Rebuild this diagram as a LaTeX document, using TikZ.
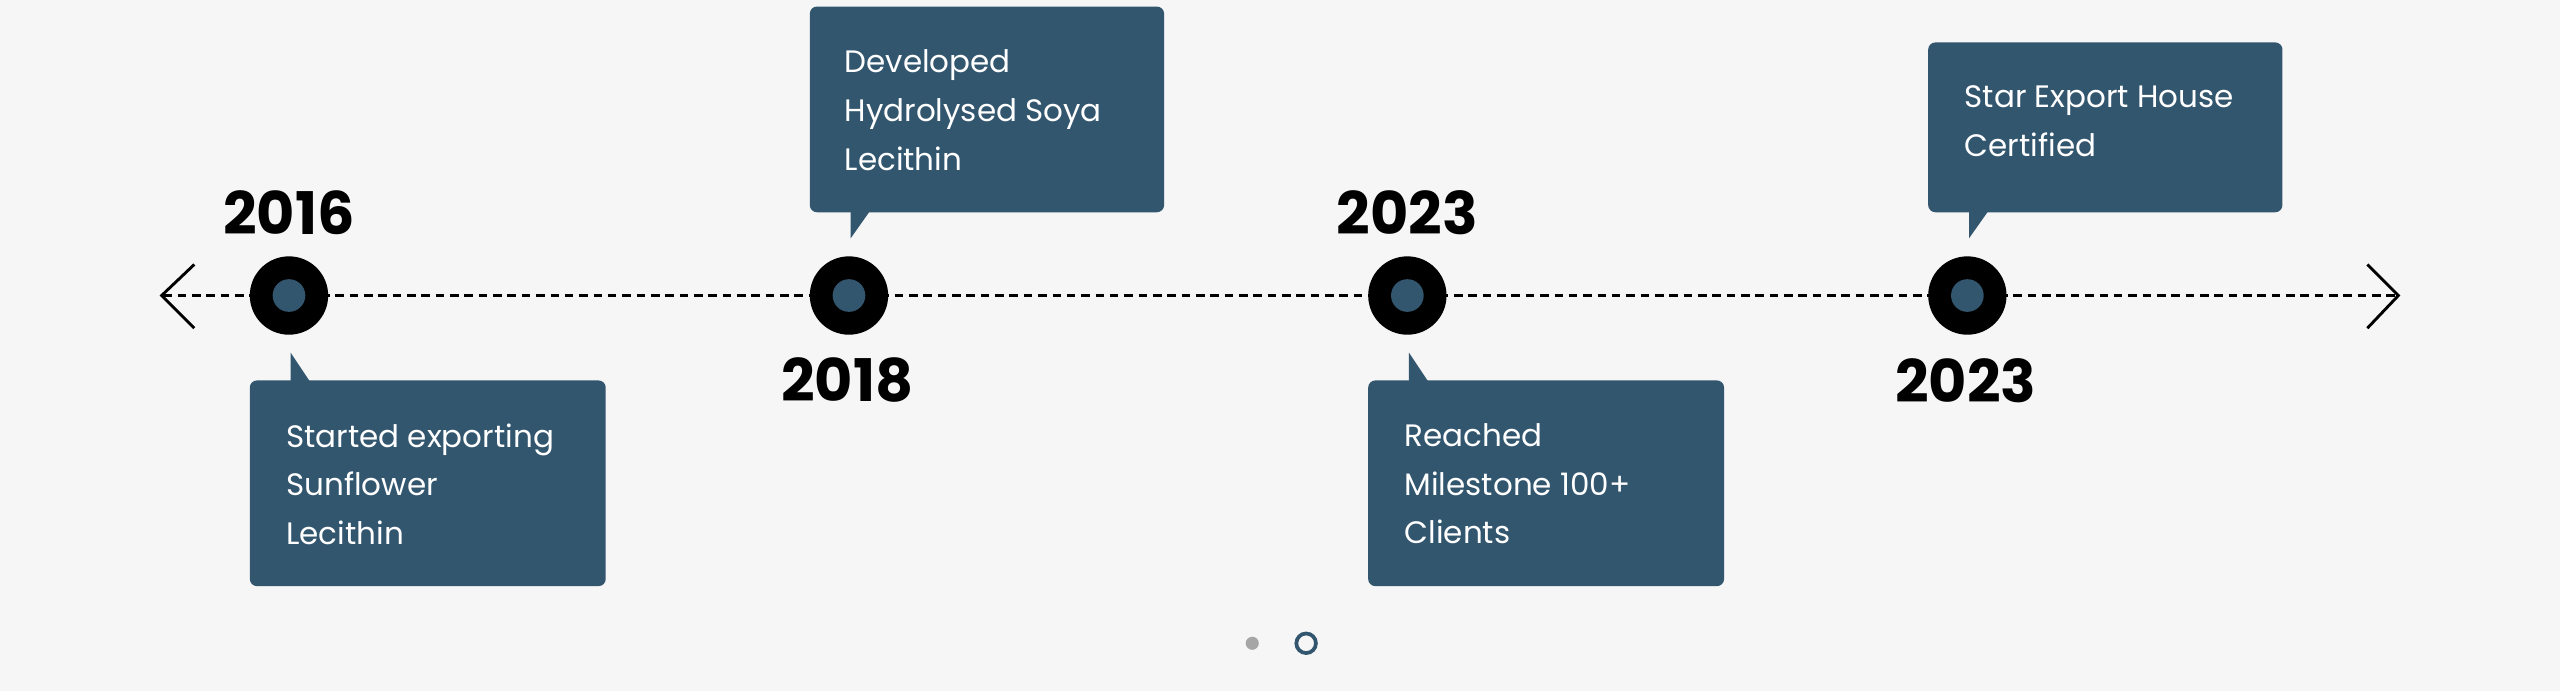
\documentclass[tikz,border=0pt]{standalone}
\usepackage{fontspec}
\setmainfont{Poppins}
\usetikzlibrary{positioning}
\definecolor{boxblue}{HTML}{33566F}
\definecolor{bgrey}{HTML}{F6F6F6}
\begin{document}
\begin{tikzpicture}[x=0.02cm,y=-0.02cm,
  year/.style={font=\fontsize{20.5}{22}\selectfont\bfseries, inner sep=0pt},
  info/.style={font=\fontsize{10.8}{17}\selectfont, text=white, align=left, anchor=north west, inner sep=0pt},
  card/.style={fill=boxblue, rounded corners=2.5pt},
  dot/.style={circle, fill=black, minimum size=48*0.02cm, inner sep=0pt}]
\fill [bgrey] (0,0) rectangle (1568,423);
\useasboundingbox (0,0) rectangle (1568,423);
% axis
\draw [black, dashed, line width=1pt, dash pattern=on 3pt off 2pt] (100,181) -- (1468,181);
\draw [black, line width=1pt] (119,162) -- (99,181) -- (119,201);
\draw [black, line width=1pt] (1450,162) -- (1469,181) -- (1450,201);
% milestones
\foreach \n/\x in {a/177,b/520,c/862,d/1205} {
  \node [dot] (\n) at (\x,181) {};
  \fill [boxblue] (\n) circle (10);
}
\node [year] (ya) at (177,130) {2016};
\node [year] (yb) at (519,233) {2018};
\node [year] (yc) at (862,130) {2023};
\node [year] (yd) at (1204,233) {2023};
% cards
\fill [card] (153,233) rectangle (371,359);
\fill [boxblue] (178,216) -- (178,234) -- (190,234) -- cycle;
\node [info] (ta) at (175,259) {Started exporting\\Sunflower\\Lecithin};
\fill [card] (496,4) rectangle (713,130);
\fill [boxblue] (521,146) -- (521,129) -- (533,129) -- cycle;
\node [info] (tb) at (517,30) {Developed\\Hydrolysed Soya\\Lecithin};
\fill [card] (838,233) rectangle (1056,359);
\fill [boxblue] (863,216) -- (863,234) -- (875,234) -- cycle;
\node [info] (tc) at (860,259) {Reached\\Milestone 100+\\Clients};
\fill [card] (1181,26) rectangle (1398,130);
\fill [boxblue] (1206,146) -- (1206,129) -- (1218,129) -- cycle;
\node [info] (td) at (1203,52) {Star Export House\\Certified};
% pager
\fill [gray!70] (767,394) circle (4);
\draw [boxblue, line width=1.3pt] (800,394) circle (6);
\end{tikzpicture}
\end{document}
